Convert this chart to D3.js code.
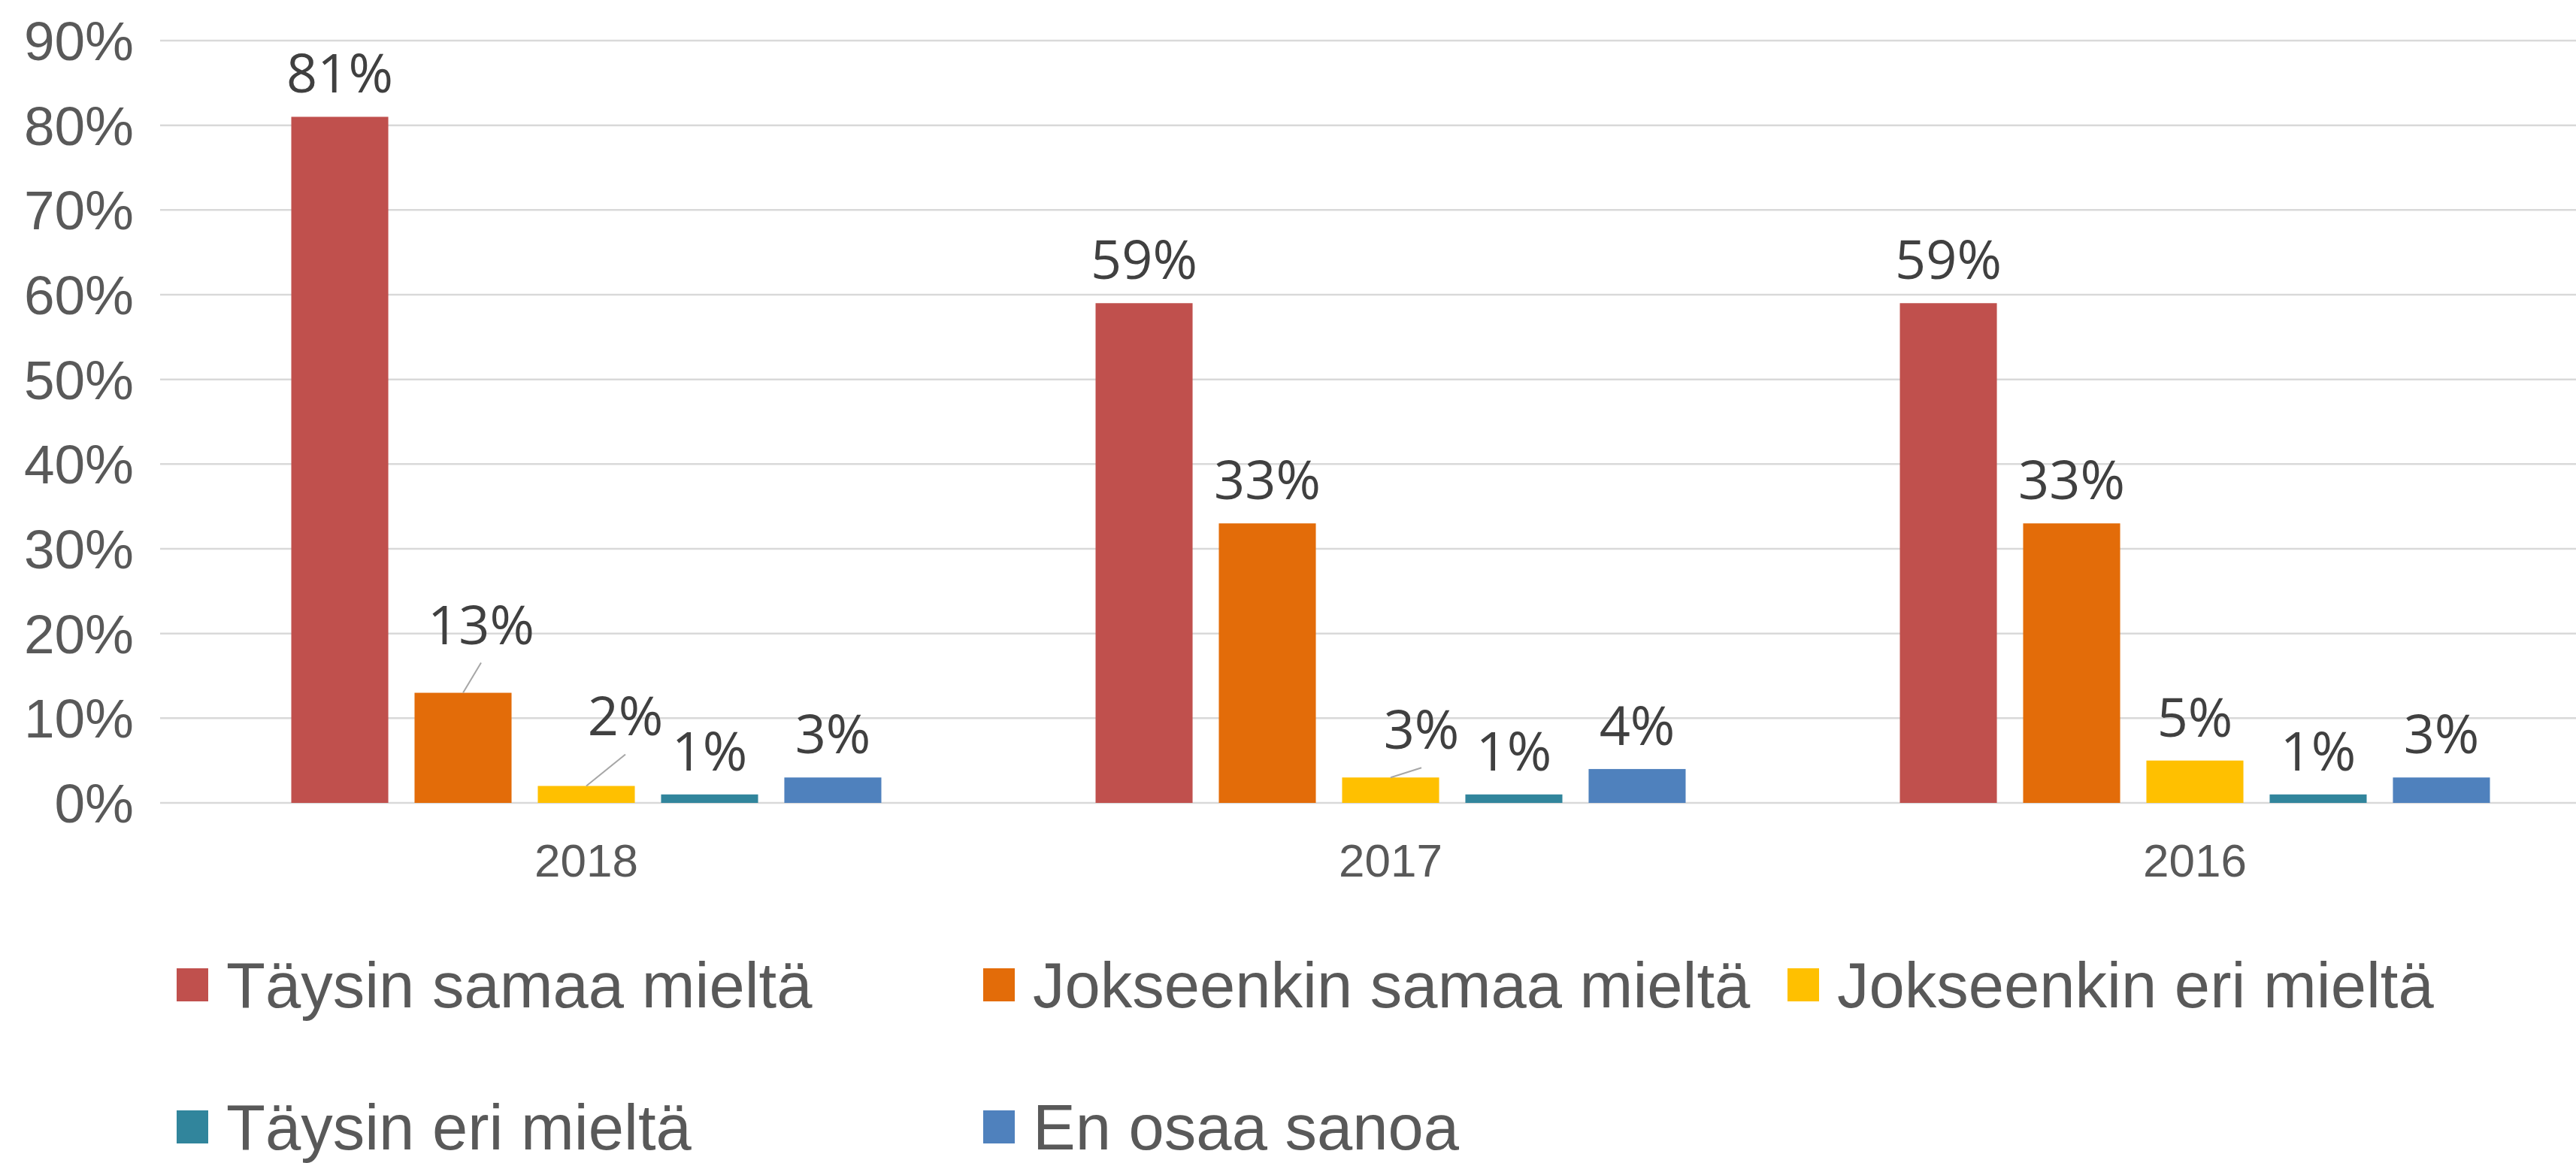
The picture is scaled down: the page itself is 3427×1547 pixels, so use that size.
<!DOCTYPE html>
<html>
<head>
<meta charset="utf-8">
<script src="https://cdn.jsdelivr.net/npm/d3@7"></script>
<style>
  body { margin: 0; background: #fff; }
  svg { display: block; }
</style>
</head>
<body>
<div id="chart"></div>
<script>
// data
const years = ["2018", "2017", "2016"]
const seriesNames = ["Täysin samaa mieltä", "Jokseenkin samaa mieltä", "Jokseenkin eri mieltä", "Täysin eri mieltä", "En osaa sanoa"]
const taysinSamaa = [81, 59, 59]
const jokseenkinSamaa = [13, 33, 33]
const jokseenkinEri = [2, 3, 5]
const taysinEri = [1, 1, 1]
const enOsaa = [3, 4, 3]
const yTicks = [0, 10, 20, 30, 40, 50, 60, 70, 80, 90]

const seriesValues = [taysinSamaa, jokseenkinSamaa, jokseenkinEri, taysinEri, enOsaa]
const colors = ["#C0504D", "#E36C09", "#FFC000", "#31859C", "#4F81BD"]

// labels Excel moved by hand (series index, year index) -> pixel nudge
const nudges = {
  "1-0": {dx: 24, dy: -33, leader: true},
  "2-0": {dx: 52, dy: -35, leader: true},
  "2-1": {dx: 41, dy: -6, leader: true}
}

const w = 3427
const h = 1547

const svg = d3.select("#chart")
  .append("svg")
  .attr("width", w)
  .attr("height", h)

const y = d3.scaleLinear().domain([0, 90]).range([1068, 54])
const x0 = d3.scaleBand().domain(years).range([245, 3455]).padding(0)
const x1 = d3.scaleBand().domain(d3.range(seriesNames.length))
  .range([142.5, x0.bandwidth() - 142.5])
  .paddingInner(0.213).paddingOuter(0)

// gridlines
svg.append("g")
  .selectAll("line")
  .data(yTicks)
  .enter()
  .append("line")
  .attr("x1", 213)
  .attr("x2", w)
  .attr("y1", d => y(d))
  .attr("y2", d => y(d))
  .attr("stroke", "#D9D9D9")
  .attr("stroke-width", 2.5)

// y axis labels
svg.append("g")
  .selectAll("text")
  .data(yTicks)
  .enter()
  .append("text")
  .attr("x", 178)
  .attr("y", d => y(d) + 26)
  .attr("text-anchor", "end")
  .attr("font-family", "'Liberation Sans', Arial, sans-serif")
  .attr("font-size", 73)
  .attr("fill", "#595959")
  .text(d => d + "%")

// x axis labels
svg.append("g")
  .selectAll("text")
  .data(years)
  .enter()
  .append("text")
  .attr("x", d => x0(d) + x0.bandwidth() / 2)
  .attr("y", 1166)
  .attr("text-anchor", "middle")
  .attr("font-family", "'Liberation Sans', Arial, sans-serif")
  .attr("font-size", 62)
  .attr("fill", "#595959")
  .text(d => d)

// bars
const bars = []
seriesValues.forEach((vals, s) => {
  vals.forEach((v, i) => bars.push({s: s, i: i, year: years[i], value: v}))
})

svg.append("g")
  .selectAll("rect")
  .data(bars)
  .enter()
  .append("rect")
  .attr("x", d => x0(d.year) + x1(d.s))
  .attr("y", d => y(d.value))
  .attr("width", x1.bandwidth())
  .attr("height", d => y(0) - y(d.value))
  .attr("fill", d => colors[d.s])

// data labels (+ leader lines for moved ones)
const lbl = svg.append("g")
bars.forEach(d => {
  const cx = x0(d.year) + x1(d.s) + x1.bandwidth() / 2
  const top = y(d.value)
  const n = nudges[d.s + "-" + d.i]
  let lx = cx
  let cy = top - 58
  if (n) {
    lx = cx + n.dx
    cy = cy + n.dy
    if (n.leader) {
      lbl.append("line")
        .attr("x1", lx)
        .attr("y1", cy + 51)
        .attr("x2", cx)
        .attr("y2", top)
        .attr("stroke", "#A6A6A6")
        .attr("stroke-width", 2)
    }
  }
  lbl.append("text")
    .attr("x", lx)
    .attr("y", cy + 26)
    .attr("text-anchor", "middle")
    .attr("font-family", "'Open Sans', sans-serif")
    .attr("font-size", 72)
    .attr("fill", "#404040")
    .text(d.value + "%")
})

// legend
const legendPos = [
  {x: 235, y: 1310}, {x: 1308, y: 1310}, {x: 2378, y: 1310},
  {x: 235, y: 1499}, {x: 1308, y: 1499}
]
const lg = svg.append("g")
  .selectAll("g")
  .data(seriesNames)
  .enter()
  .append("g")
  .attr("transform", (d, i) => "translate(" + legendPos[i].x + "," + legendPos[i].y + ")")

lg.append("rect")
  .attr("x", 0)
  .attr("y", -22)
  .attr("width", 42)
  .attr("height", 44)
  .attr("fill", (d, i) => colors[i])

lg.append("text")
  .attr("x", 66)
  .attr("y", 30)
  .attr("font-family", "'Liberation Sans', Arial, sans-serif")
  .attr("font-size", 85)
  .attr("fill", "#595959")
  .text(d => d)
</script>
</body>
</html>
